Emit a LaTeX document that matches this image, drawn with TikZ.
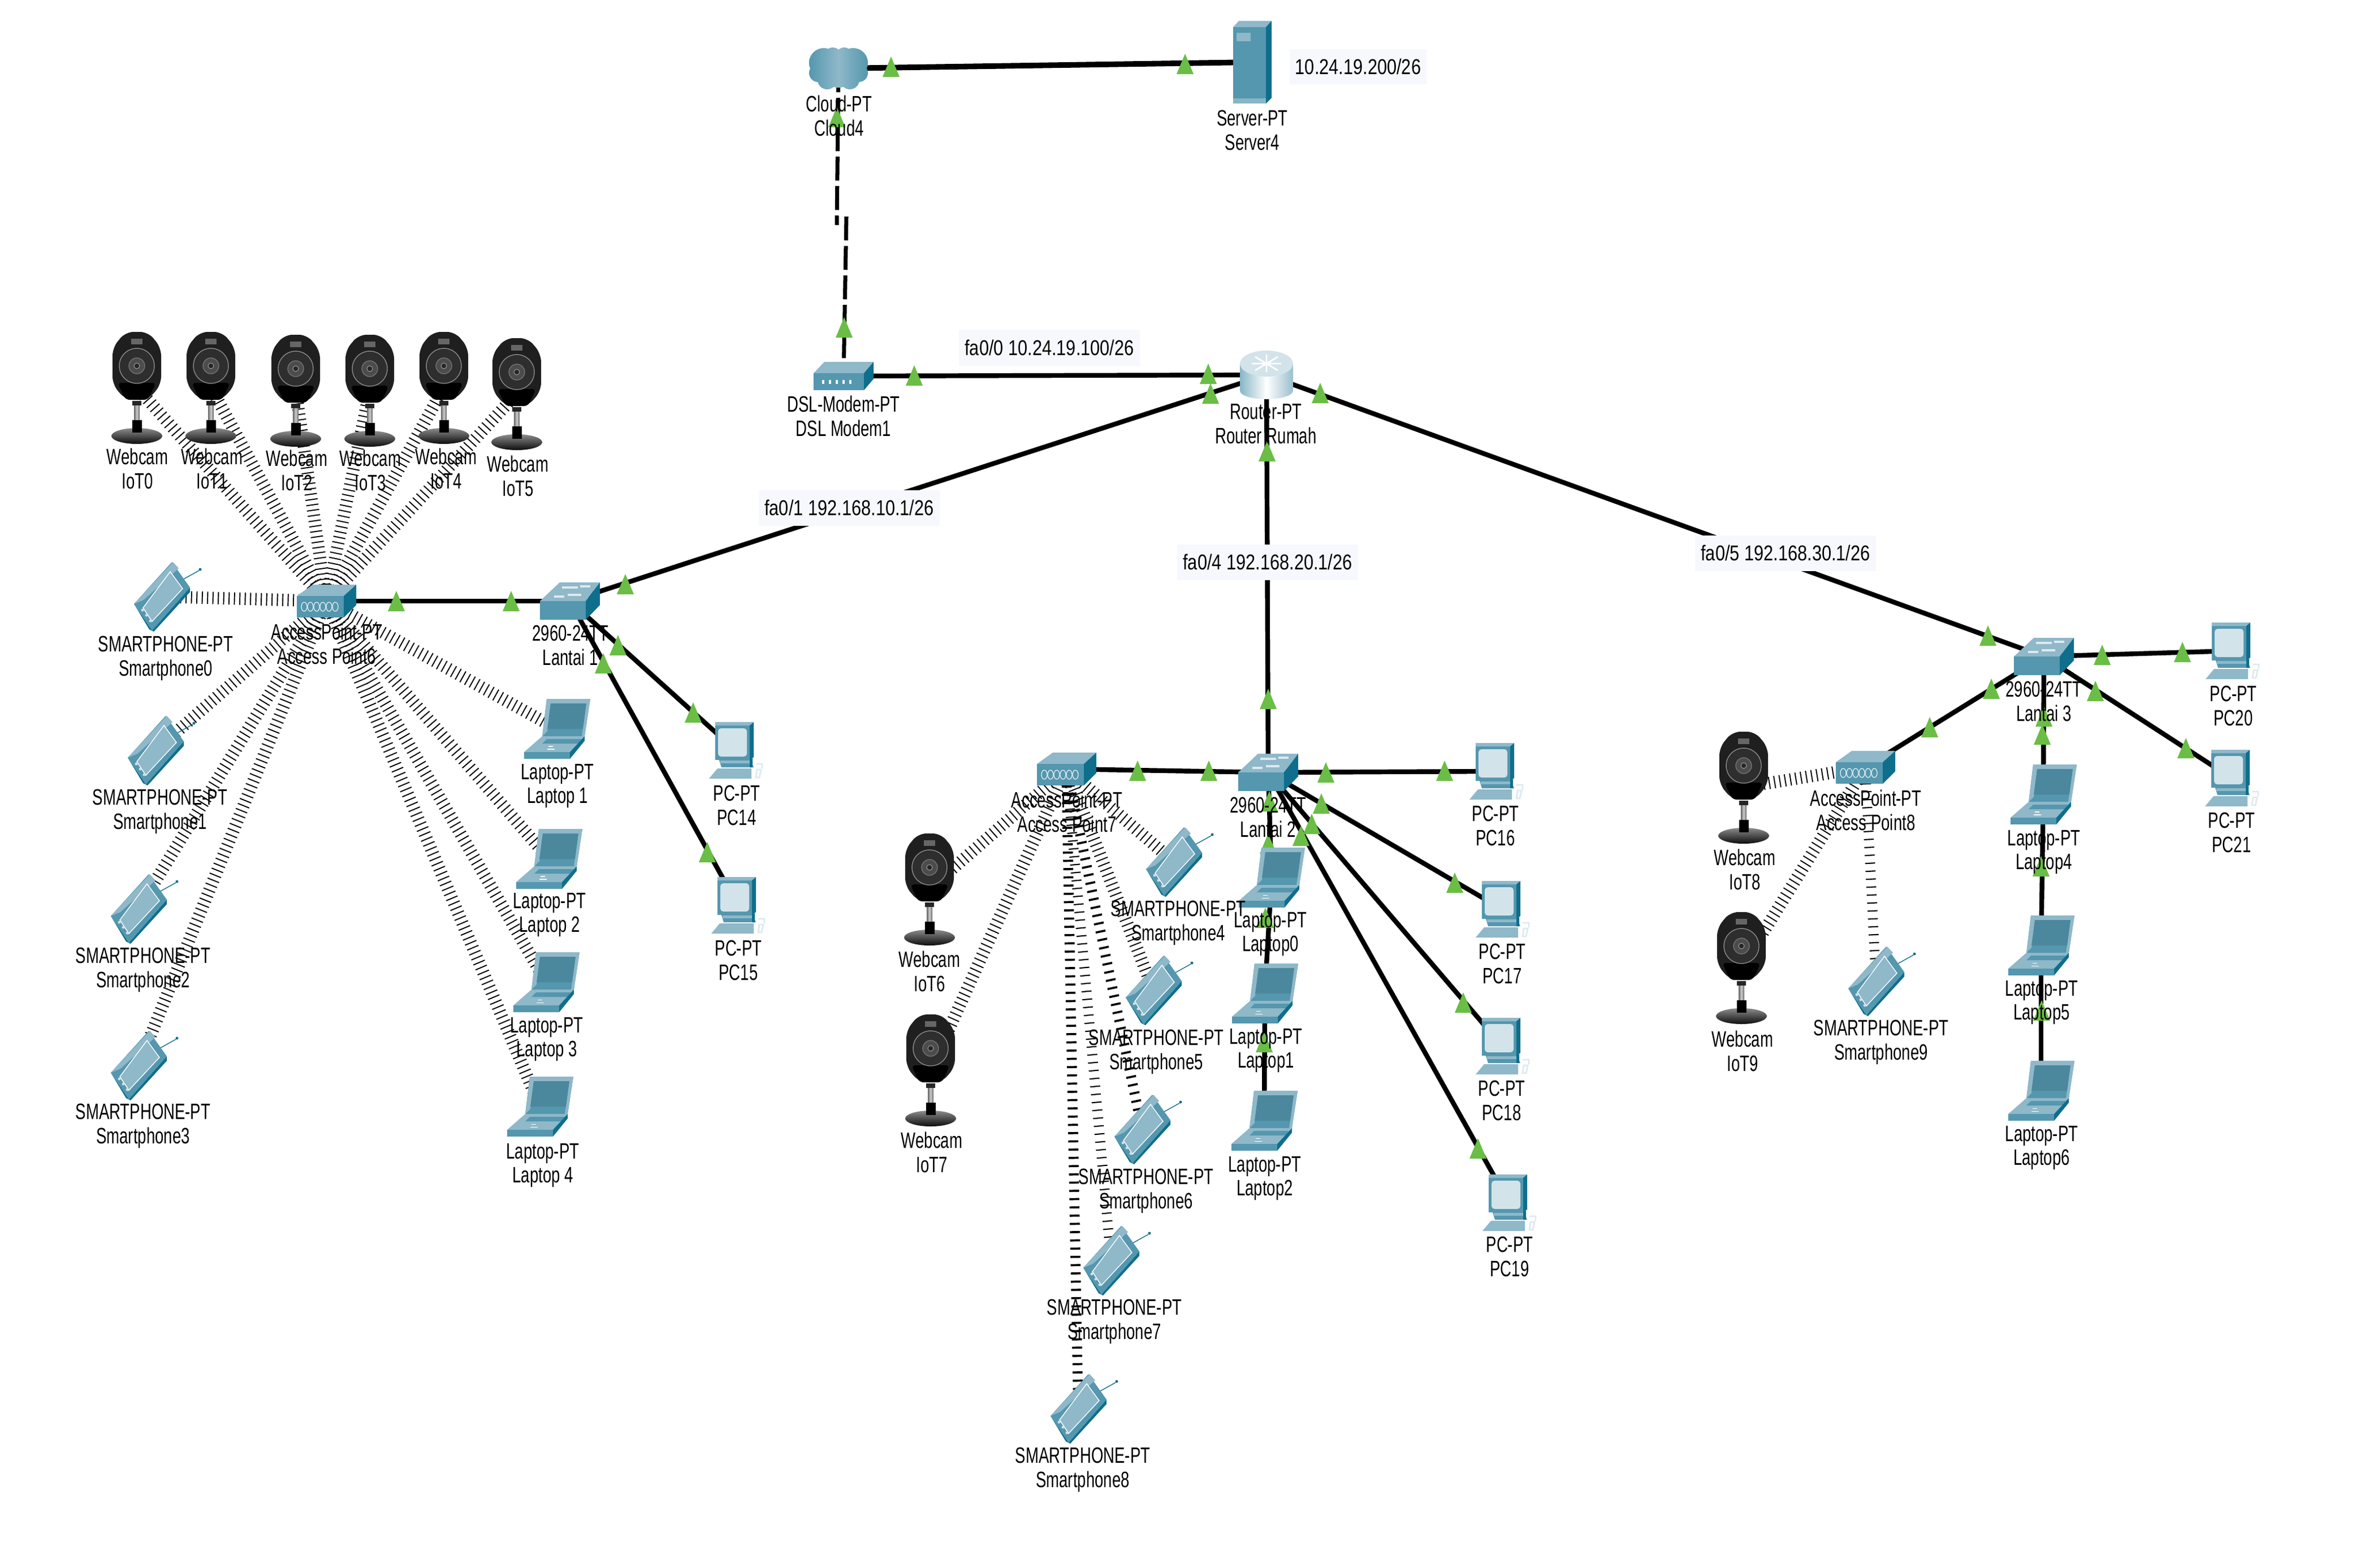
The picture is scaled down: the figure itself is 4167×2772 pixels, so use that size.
\documentclass[tikz,border=0pt]{standalone}
\usepackage{fontspec}
\setmainfont[FakeStretch=0.70]{Liberation Sans}
\newfontfamily\addrfont[FakeStretch=0.81]{Liberation Sans}
\definecolor{icmid}{HTML}{5497AE}
\definecolor{iclight}{HTML}{8FB8C9}
\definecolor{icdark}{HTML}{0F6E8C}
\definecolor{icpale}{HTML}{D3E3EA}
\definecolor{linkg}{HTML}{6ABD45}
\definecolor{addrbg}{HTML}{F7F8FE}
\tikzset{
  dev/.style={inner sep=0pt,minimum size=0pt,outer sep=0pt},
  lbl/.style={align=center,inner sep=0pt,text=black,font=\fontsize{11.2}{12.2}\selectfont},
  addr/.style={fill=addrbg,minimum width=319*0.2845pt,minimum height=63*0.2845pt,inner sep=0pt,text=black,font=\addrfont\fontsize{10.8}{12.2}\selectfont},
  link/.style={line width=2.4pt,black},
  dashlink/.style={line width=2pt,black,dash pattern=on 12pt off 2.8pt},
  wless/.style={line width=6.2pt,black,dash pattern=on 0.55pt off 2.15pt},
  wlessb/.style={line width=5pt,black,dash pattern=on 1.05pt off 3.1pt},
  wlessc/.style={line width=5pt,black,dash pattern=on 0.6pt off 3.4pt},
  pics/ltri/.style={code={\fill[linkg] (-15,18) -- (0,-18) -- (15,18) -- cycle;}},
  pics/camicon/.style={code={
    \fill[black!88,rounded corners=4pt] (-20,-98) -- (20,-98) -- (43,-70) -- (43,-5) -- (20,22) -- (-20,22) -- (-43,-5) -- (-43,-70) -- cycle;
    \fill[black,rounded corners=2pt] (-34,-8) -- (34,-8) -- (20,22) -- (-20,22) -- cycle;
    \fill[black!60] (-10,-86) rectangle (10,-76);
    \draw[black!45,line width=0.4pt,fill=black!82] (0,-38) circle (31);
    \draw[black!55,line width=0.4pt,fill=black!70] (0,-38) circle (14);
    \draw[black!40,line width=0.3pt,fill=black!85] (0,-38) circle (5);
    \fill[black!85] (-8,24) rectangle (8,32);
    \shade[left color=black!60,right color=black!60,middle color=black!20] (-5,32) rectangle (5,58);
    \shade[top color=black!45,bottom color=black!95] (0,86) ellipse [x radius=45,y radius=14];
    \fill[black] (-8.5,58) rectangle (8.5,80);
  }},
  pics/phoneicon/.style={code={
    \draw[icdark,line width=0.4pt] (30,-26) -- (66,-46);
    \fill[icdark] (68,-48) circle (2.5);
    \fill[icdark] (-49,13) -- (-17,60) -- (50,-16) -- (50,-8) -- (-14,62) -- (-22,58) -- cycle;
    \fill[icmid] (18,-61) -- (50,-16) -- (-17,60) -- (-49,13) -- cycle;
    \fill[iclight] (20,-61) -- (30,-50) -- (-32,6) -- (-49,13) -- cycle;
    \draw[white,line width=0.4pt,fill=iclight] (15,-44) -- (37,-14) -- (-17,44) -- (-33,20) -- cycle;
    \fill[white!70!icmid] (-34,24) circle (2.5) (-27,33) circle (2.5) (-20,43) circle (2.5);
  }},
  pics/lapicon/.style={code={
    \fill[icmid] (-26,13) -- (-18,-53) -- (59,-53) -- (49,13) -- cycle;
    \fill[iclight] (-26,13) -- (-18,-53) -- (59,-53) -- (52,-45) -- (-11,-45) -- (-17,4) -- cycle;
    \fill[iclight] (59,-53) -- (49,13) -- (44,13) -- (52,-45) -- cycle;
    \fill[icmid!90!black] (-11,-45) -- (52,-45) -- (46,0) -- (-17,0) -- cycle;
    \fill[iclight] (-26,13) -- (49,13) -- (23,41) -- (-58,41) -- cycle;
    \fill[icmid] (-18,18) -- (44,18) -- (38,26) -- (-26,26) -- cycle;
    \fill[icmid] (-58,41) rectangle (23,53);
    \fill[icdark] (23,41) -- (49,13) -- (49,21) -- (23,53) -- cycle;
    \draw[white,line width=0.3pt] (-17,36) -- (-4,36) (-15,31) -- (-7,31);
  }},
  pics/pcicon/.style={code={
    \draw[white!70!iclight,line width=0.8pt] (36,24) -- (47,24) -- (47,32) (36,48) -- (38,34) -- (45,34) -- (42,48) -- cycle;
    \fill[icmid] (-30,14) -- (25,14) -- (32,30) -- (-25,30) -- cycle;
    \fill[icdark] (25,16) -- (30,14) -- (30,30) -- (25,30) -- cycle;
    \fill[iclight] (-27,18) rectangle (25,23);
    \fill[iclight] (-47,50) -- (-32,32) -- (28,32) -- (28,50) -- cycle;
    \fill[icmid] (-36,-50) rectangle (25,17);
    \fill[iclight] (-36,-50) -- (32,-50) -- (25,-44) -- (-36,-44) -- cycle;
    \fill[icdark] (25,-44) -- (32,-50) -- (32,12) -- (25,17) -- cycle;
    \fill[icpale,rounded corners=1.5pt] (-31,-39) rectangle (20,11);
  }},
  pics/swicon/.style={code={
    \fill[iclight] (-18,-33) -- (53,-33) -- (28,0) -- (-53,0) -- cycle;
    \fill[icmid] (-53,0) rectangle (28,33);
    \fill[icdark] (28,0) -- (53,-33) -- (53,7) -- (28,33) -- cycle;
    \draw[white!70!iclight,line width=0.9pt] (-14,-24) -- (14,-24) (18,-26) -- (36,-26) (-28,-8) -- (-10,-8) (-4,-11) -- (20,-11);
  }},
  pics/apicon/.style={code={
    \fill[iclight] (-24,-29) -- (53,-29) -- (31,-9) -- (-52,-9) -- cycle;
    \fill[icmid] (-52,-9) rectangle (31,29);
    \fill[icdark] (31,-9) -- (53,-29) -- (53,7) -- (31,29) -- cycle;
    \foreach \gx in {-39,-28,-17,-6,5,16}{\draw[white!80!iclight,line width=0.35pt] (\gx,10) ellipse [x radius=5,y radius=8];}
  }},
  pics/routericon/.style={code={
    \shade[left color=icmid!70,right color=iclight!90,middle color=white] (-47,-20) -- (-47,28) arc[start angle=180,end angle=360,x radius=47,y radius=-15] -- (47,-20) -- cycle;
    \fill[icpale] (0,-20) ellipse [x radius=47,y radius=23];
    \draw[white,line width=0.8pt] (-26,-20) -- (26,-20) (0,-36) -- (0,-5) (-20,-32) -- (20,-8) (20,-32) -- (-20,-8);
  }},
  pics/modemicon/.style={code={
    \fill[iclight] (-34,-25) -- (53,-25) -- (36,-5) -- (-53,-5) -- cycle;
    \fill[icmid] (-53,-5) rectangle (36,25);
    \fill[icdark] (36,-5) -- (53,-25) -- (53,5) -- (36,25) -- cycle;
    \foreach \gx in {-36,-24,-12,0,12}{\fill[white] (\gx-2,7) rectangle (\gx+2,14);}
  }},
  pics/servericon/.style={code={
    \fill[iclight] (-24,-73) -- (34,-73) -- (24,-62) -- (-34,-62) -- cycle;
    \fill[icmid] (-34,-62) rectangle (24,73);
    \fill[icdark] (24,-62) -- (34,-73) -- (34,63) -- (24,73) -- cycle;
    \fill[iclight] (-28,-52) rectangle (-3,-37);
    \fill[icmid!70!white] (-34,64) rectangle (24,73);
  }},
  pics/cloudicon/.style={code={
    \shade[left color=icmid,right color=icmid,middle color=iclight]
      (-26,-10) circle (26) (26,-10) circle (26) (-10,-22) circle (15) (10,-22) circle (15)
      (-36,8) circle (16) (36,8) circle (16) (-20,20) circle (17) (20,20) circle (17) (0,4) circle (30);
  }},
}
\begin{document}
\begin{tikzpicture}[x=0.01cm,y=-0.01cm]
\useasboundingbox (0,0) rectangle (4167,2772);
\fill[white] (0,0) rectangle (4167,2772);
% device anchors
\foreach \n/\px/\py in {
  cloud/1483/121,server/2215/110,modem/1492/665,router/2240/663,
  swa/1008/1063,swb/2243/1366,swc/3615/1161,
  apa/577/1063,apb/1886/1360,apc/3299/1357,
  cama/242/685,camb/373/685,camc/523/690,camd/654/690,came/785/685,camf/914/696,
  camg/1644/1572,camh/1646/1892,cami/3084/1392,camj/3080/1711,
  pha/286/1055,phb/275/1327,phc/245/1607,phd/245/1884,
  phe/2076/1524,phf/2040/1751,phg/2020/1997,phh/1965/2229,phi/1907/2491,phj/3318/1735,
  lpa/985/1289,lpb/971/1519,lpc/966/1737,lpd/955/1957,
  lpe/2249/1552,lpf/2237/1757,lpg/2236/1982,
  lph/3614/1405,lpi/3610/1672,lpj/3610/1929,
  pca/1301/1327,pcb/1305/1601,pcc/2646/1364,pcd/2657/1608,pce/2657/1850,pcf/2669/2127,pcg/3948/1151,pch/3947/1376}
  {\node[dev] (\n) at (\px,\py) {};}
\coordinate (joga) at (1480,398);
\coordinate (jogb) at (1497,383);
% wireless links
\foreach \n in {cama,camb,camc,camd,came,camf,pha,phb,phc,phd,lpa,lpb,lpc,lpd}{\draw[wless] (apa) -- (\n);}
\foreach \n in {camg,camh,phe,phf}{\draw[wless] (apb) -- (\n);}
\draw[wlessb] (apb) -- (phg);
\draw[wlessc] (apb) -- (phh);
\draw[wlessb] (apb) -- (phi);
\foreach \n in {cami,camj}{\draw[wless] (apc) -- (\n);}
\draw[wlessc] (apc) -- (phj);
% wired links
\draw[link,line width=2.8pt] (cloud) -- (server);
\draw[dashlink] (cloud) -- (joga);
\draw[dashlink] (jogb) -- (modem);
\foreach \a/\b in {modem/router,router/swa,router/swb,router/swc,apa/swa,swa/pca,swa/pcb,
  apb/swb,swb/pcc,swb/pcd,swb/pce,swb/pcf,swb/lpe,lpe/lpf,lpf/lpg,
  swc/pcg,swc/pch,swc/apc,swc/lph,lph/lpi,lpi/lpj}{\draw[link] (\a) -- (\b);}
% link lights
\foreach \px/\py in {1576/118,2096/113,1480/207,1493/579,1617/664,2137/661,2141/696,2335/695,2241/798,2243/1236,
  701/1063,904/1063,1106/1033,1093/1141,1067/1173,1226/1260,1251/1507,
  2012/1363,2138/1363,2345/1366,2555/1363,2337/1421,2320/1457,2301/1478,2245/1417,2243/1492,2238/1623,2236/1843,2573/1561,2588/1773,2614/2031,
  3516/1124,3718/1158,3860/1153,3522/1218,3706/1222,3413/1286,3866/1323,3615/1267,3612/1299,3610/1532,3611/1787}
  {\pic at (\px,\py) {ltri};}
% icons
\foreach \n in {cama,camb,camc,camd,came,camf,camg,camh,cami,camj}{\pic at (\n) {camicon};}
\foreach \n in {pha,phb,phc,phd,phe,phf,phg,phh,phi,phj}{\pic at (\n) {phoneicon};}
\foreach \n in {lpa,lpb,lpc,lpd,lpe,lpf,lpg,lph,lpi,lpj}{\pic at (\n) {lapicon};}
\foreach \n in {pca,pcb,pcc,pcd,pce,pcf,pcg,pch}{\pic at (\n) {pcicon};}
\foreach \n in {swa,swb,swc}{\pic at (\n) {swicon};}
\foreach \n in {apa,apb,apc}{\pic at (\n) {apicon};}
\pic at (router) {routericon};
\pic at (modem) {modemicon};
\pic at (server) {servericon};
\pic at (cloud) {cloudicon};
% address labels
\node[addr,minimum width=242*0.2845pt,minimum height=62*0.2845pt] (ipserver) at (2402,118) {10.24.19.200/26};
\node[addr] (ipa) at (1856,615) {fa0/0 10.24.19.100/26};
\node[addr] (ipb) at (1502,898) {fa0/1 192.168.10.1/26};
\node[addr] (ipc) at (2242,994) {fa0/4 192.168.20.1/26};
\node[addr] (ipd) at (3158,978) {fa0/5 192.168.30.1/26};
% device labels
\foreach \n/\px/\py/\ta/\tb in {
  la/1484/205/Cloud-PT/Cloud4, lb/2215/230/Server-PT/Server4,
  lc/1492/736/DSL-Modem-PT/DSL Modem1, ld/2239/750/Router-PT/Router Rumah,
  le/1009/1141/2960-24TT/Lantai 1, lf/2243/1445/2960-24TT/Lantai 2, lg/3615/1240/2960-24TT/Lantai 3,
  lh/578/1139/AccessPoint-PT/Access Point6, li/1887/1436/AccessPoint-PT/Access Point7, lj/3300/1433/AccessPoint-PT/Access Point8,
  lk/243/829/Webcam/IoT0, ll/375/829/Webcam/IoT1, lm/525/832/Webcam/IoT2, ln/655/832/Webcam/IoT3, lo/789/829/Webcam/IoT4, lp/916/842/Webcam/IoT5,
  lq/1644/1718/Webcam/IoT6, lr/1648/2038/Webcam/IoT7, ls/3086/1538/Webcam/IoT8, lt/3082/1859/Webcam/IoT9,
  lu/293/1164/SMARTPHONE-PT/Smartphone0, lv/283/1435/SMARTPHONE-PT/Smartphone1, lw/253/1715/SMARTPHONE-PT/Smartphone2, lx/253/1991/SMARTPHONE-PT/Smartphone3,
  ly/2084/1632/SMARTPHONE-PT/Smartphone4, lz/2045/1860/SMARTPHONE-PT/Smartphone5, maa/2027/2106/SMARTPHONE-PT/Smartphone6, mab/1971/2337/SMARTPHONE-PT/Smartphone7, mac/1915/2599/SMARTPHONE-PT/Smartphone8, mad/3327/1843/SMARTPHONE-PT/Smartphone9,
  mae/986/1390/Laptop-PT/Laptop 1, maf/972/1618/Laptop-PT/Laptop 2, mag/967/1838/Laptop-PT/Laptop 3, mah/960/2061/Laptop-PT/Laptop 4,
  mai/2247/1652/Laptop-PT/Laptop0, maj/2239/1858/Laptop-PT/Laptop1, mak/2237/2084/Laptop-PT/Laptop2,
  mal/3615/1507/Laptop-PT/Laptop4, mam/3611/1773/Laptop-PT/Laptop5, man/3611/2030/Laptop-PT/Laptop6,
  mao/1303/1424/PC-PT/PC14, map/1306/1698/PC-PT/PC15, maq/2645/1460/PC-PT/PC16, mar/2657/1704/PC-PT/PC17, mas/2656/1946/PC-PT/PC18, mat/2670/2222/PC-PT/PC19, mau/3950/1248/PC-PT/PC20, mav/3947/1472/PC-PT/PC21}
  {\node[lbl] (\n) at (\px,\py) {\ta\\\tb};}
\end{tikzpicture}
\end{document}
